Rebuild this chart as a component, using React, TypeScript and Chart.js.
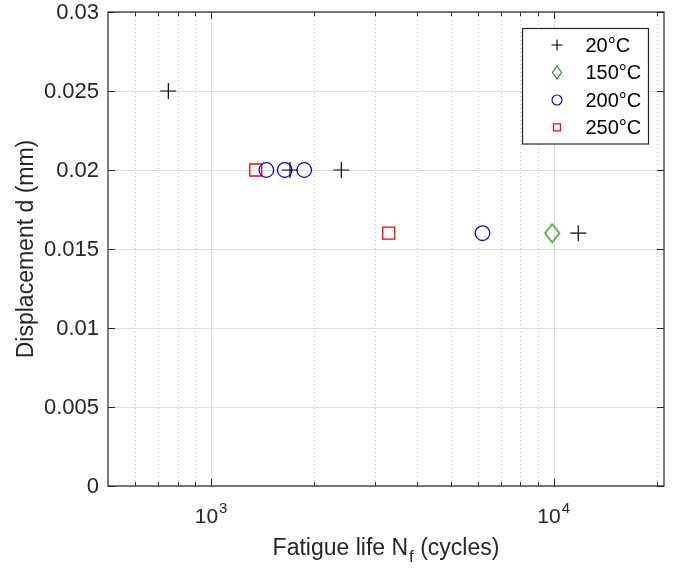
import React, { useEffect, useRef } from 'react';
import { Chart, registerables } from 'chart.js';

Chart.register(...registerables);

const seriesLabels = ['20°C', '150°C', '200°C', '250°C'];
const seriesColors = ['#000000', '#149414', '#0000ff', '#ff0000'];
const cycles20 = [750, 1700, 2400, 11800];
const disp20 = [0.025, 0.02, 0.02, 0.016];
const cycles150 = [9900];
const disp150 = [0.016];
const cycles200 = [1450, 1640, 1870, 6200];
const disp200 = [0.02, 0.02, 0.02, 0.016];
const cycles250 = [1350, 3300];
const disp250 = [0.02, 0.016];

const xTickValues = [500, 600, 700, 800, 900, 1000, 2000, 3000, 4000, 5000, 6000, 7000, 8000, 9000, 10000, 20000];
const xMajorValues = [1000, 10000];
const xLabelBases = ['10', '10'];
const xLabelExponents = ['3', '4'];
const yTickValues = [0, 0.005, 0.01, 0.015, 0.02, 0.025, 0.03];
const yTickLabels = ['0', '0.005', '0.01', '0.015', '0.02', '0.025', '0.03'];

const xTitleMain = 'Fatigue life N';
const xTitleSub = 'f';
const xTitleTail = ' (cycles)';
const yTitle = 'Displacement d (mm)';

const FONT = '"Liberation Sans", Arial, Helvetica, sans-serif';
const TEXT = '#262626';
const AXIS = '#262626';

function zip(xs: number[], ys: number[]) {
  return xs.map((x, i) => ({ x, y: ys[i] }));
}

function makeDiamond(w: number, h: number, color: string, lw: number) {
  const c = document.createElement('canvas');
  c.width = w;
  c.height = h;
  const g = c.getContext('2d')!;
  g.strokeStyle = color;
  g.lineWidth = lw;
  g.beginPath();
  g.moveTo(w / 2, lw);
  g.lineTo(w - lw, h / 2);
  g.lineTo(w / 2, h - lw);
  g.lineTo(lw, h / 2);
  g.closePath();
  g.stroke();
  return c;
}

const framePlugin = {
  id: 'matlabFrame',
  beforeDatasetsDraw(chart: any) {
    const { ctx, chartArea } = chart;
    const { left, right, top, bottom } = chartArea;
    const xs = chart.scales.x;
    const ys = chart.scales.y;
    ctx.save();
    ctx.lineWidth = 1;
    ctx.strokeStyle = '#dfdfdf';
    ctx.setLineDash([]);
    yTickValues.forEach((v) => {
      const py = Math.round(ys.getPixelForValue(v)) + 0.5;
      ctx.beginPath();
      ctx.moveTo(left, py);
      ctx.lineTo(right, py);
      ctx.stroke();
    });
    xTickValues.forEach((v) => {
      const px = Math.round(xs.getPixelForValue(v)) + 0.5;
      if (px <= left + 1 || px >= right - 1) return;
      const major = xMajorValues.includes(v);
      ctx.strokeStyle = major ? '#dfdfdf' : '#c4c4c4';
      ctx.setLineDash(major ? [] : [1, 3]);
      ctx.beginPath();
      ctx.moveTo(px, top);
      ctx.lineTo(px, bottom);
      ctx.stroke();
    });
    ctx.restore();
  },
  afterDatasetsDraw(chart: any) {
    const { ctx, chartArea } = chart;
    const { left, right, top, bottom } = chartArea;
    const xs = chart.scales.x;
    const ys = chart.scales.y;
    ctx.save();
    ctx.setLineDash([]);
    ctx.strokeStyle = AXIS;
    ctx.lineWidth = 1.2;
    ctx.strokeRect(left, top, right - left, bottom - top);
    ctx.lineWidth = 1;
    xTickValues.forEach((v) => {
      const px = Math.round(xs.getPixelForValue(v)) + 0.5;
      if (px <= left + 1) return;
      const len = xMajorValues.includes(v) ? 7 : 4;
      ctx.beginPath();
      ctx.moveTo(px, bottom);
      ctx.lineTo(px, bottom - len);
      ctx.moveTo(px, top);
      ctx.lineTo(px, top + len);
      ctx.stroke();
    });
    yTickValues.forEach((v) => {
      const py = Math.round(ys.getPixelForValue(v)) + 0.5;
      ctx.beginPath();
      ctx.moveTo(left, py);
      ctx.lineTo(left + 7, py);
      ctx.moveTo(right, py);
      ctx.lineTo(right - 7, py);
      ctx.stroke();
    });
    ctx.fillStyle = TEXT;
    ctx.font = `22px ${FONT}`;
    ctx.textAlign = 'right';
    ctx.textBaseline = 'middle';
    yTickValues.forEach((v, i) => {
      const py = ys.getPixelForValue(v);
      ctx.fillText(yTickLabels[i], left - 9, py + 1);
    });
    ctx.textAlign = 'left';
    ctx.textBaseline = 'alphabetic';
    xMajorValues.forEach((v, i) => {
      const px = xs.getPixelForValue(v);
      ctx.font = `21px ${FONT}`;
      const wb = ctx.measureText(xLabelBases[i]).width;
      ctx.font = `15px ${FONT}`;
      const we = ctx.measureText(xLabelExponents[i]).width;
      const x0 = px - (wb + we + 1) / 2;
      ctx.font = `21px ${FONT}`;
      ctx.fillText(xLabelBases[i], x0, bottom + 37);
      ctx.font = `15px ${FONT}`;
      ctx.fillText(xLabelExponents[i], x0 + wb + 1, bottom + 27);
    });
    ctx.font = `23px ${FONT}`;
    const w1 = ctx.measureText(xTitleMain).width;
    const w3 = ctx.measureText(xTitleTail).width;
    ctx.font = `17px ${FONT}`;
    const w2 = ctx.measureText(xTitleSub).width;
    const cx = (left + right) / 2;
    const tx = cx - (w1 + w2 + w3 + 1) / 2;
    const by = bottom + 69;
    ctx.font = `23px ${FONT}`;
    ctx.fillText(xTitleMain, tx, by);
    ctx.font = `17px ${FONT}`;
    ctx.fillText(xTitleSub, tx + w1 + 1, by + 7);
    ctx.font = `23px ${FONT}`;
    ctx.fillText(xTitleTail, tx + w1 + w2 + 1, by);
    ctx.save();
    ctx.translate(33, (top + bottom) / 2);
    ctx.rotate(-Math.PI / 2);
    ctx.textAlign = 'center';
    ctx.textBaseline = 'alphabetic';
    ctx.font = `23px ${FONT}`;
    ctx.fillText(yTitle, 0, 0);
    ctx.restore();
    ctx.restore();
  },
  afterDraw(chart: any) {
    const { ctx } = chart;
    const bx = 522.5, by = 28.5, bw = 126, bh = 115.5;
    ctx.save();
    ctx.fillStyle = '#ffffff';
    ctx.fillRect(bx, by, bw, bh);
    ctx.strokeStyle = AXIS;
    ctx.lineWidth = 1.2;
    ctx.strokeRect(bx, by, bw, bh);
    const rows = [45, 72.5, 100, 127.3];
    const mx = 557;
    rows.forEach((ry, i) => {
      const col = seriesColors[i];
      ctx.strokeStyle = col;
      ctx.lineWidth = 1.2;
      ctx.beginPath();
      if (i === 0) {
        ctx.lineWidth = 1.1;
        ctx.moveTo(mx - 5.5, ry);
        ctx.lineTo(mx + 5.5, ry);
        ctx.moveTo(mx, ry - 5.5);
        ctx.lineTo(mx, ry + 5.5);
      } else if (i === 1) {
        ctx.moveTo(mx, ry - 6.5);
        ctx.lineTo(mx + 4.5, ry);
        ctx.lineTo(mx, ry + 6.5);
        ctx.lineTo(mx - 4.5, ry);
        ctx.closePath();
      } else if (i === 2) {
        ctx.arc(mx, ry, 5, 0, Math.PI * 2);
      } else {
        ctx.rect(mx - 3.5, ry - 3.5, 7, 7);
      }
      ctx.stroke();
      ctx.fillStyle = '#000000';
      ctx.font = `20px ${FONT}`;
      ctx.textAlign = 'left';
      ctx.textBaseline = 'middle';
      ctx.fillText(seriesLabels[i], 585.5, ry + 1);
    });
    ctx.restore();
  },
};

export default function App() {
  const canvasRef = useRef<HTMLCanvasElement | null>(null);

  useEffect(() => {
    if (!canvasRef.current) return;
    const diamond = makeDiamond(17, 21, seriesColors[1], 1.3);
    const chart = new Chart(canvasRef.current, {
      type: 'scatter',
      data: {
        datasets: [
          {
            label: seriesLabels[0],
            data: zip(cycles20, disp20),
            pointStyle: 'cross',
            pointRadius: 8,
            borderColor: seriesColors[0],
            backgroundColor: 'transparent',
            borderWidth: 1.2,
          },
          {
            label: seriesLabels[1],
            data: zip(cycles150, disp150),
            pointStyle: diamond as any,
            pointRadius: 9,
            borderColor: seriesColors[1],
            backgroundColor: 'transparent',
          },
          {
            label: seriesLabels[2],
            data: zip(cycles200, disp200),
            pointStyle: 'circle',
            pointRadius: 7.3,
            borderColor: seriesColors[2],
            backgroundColor: 'transparent',
            borderWidth: 1.3,
          },
          {
            label: seriesLabels[3],
            data: zip(cycles250, disp250),
            pointStyle: 'rect',
            pointRadius: 8.5,
            borderColor: seriesColors[3],
            backgroundColor: 'transparent',
            borderWidth: 1.3,
          },
        ],
      },
      options: {
        responsive: false,
        animation: false,
        events: [],
        devicePixelRatio: 1,
        layout: { padding: { left: 108, top: 12, right: 11, bottom: 83 } },
        plugins: {
          legend: { display: false },
          tooltip: { enabled: false },
          title: { display: false },
        },
        scales: {
          x: {
            type: 'logarithmic',
            min: 500,
            max: 21000,
            grid: { display: false, drawTicks: false, tickLength: 0 },
            border: { display: false },
            ticks: { display: false, padding: 0 },
            afterBuildTicks: (scale: any) => {
              scale.ticks = xTickValues.map((v) => ({ value: v, major: xMajorValues.includes(v) }));
            },
          },
          y: {
            type: 'linear',
            min: 0,
            max: 0.03,
            grid: { display: false, drawTicks: false, tickLength: 0 },
            border: { display: false },
            ticks: { display: false, padding: 0 },
            afterBuildTicks: (scale: any) => {
              scale.ticks = yTickValues.map((v) => ({ value: v }));
            },
          },
        },
      },
      plugins: [framePlugin],
    });
    return () => chart.destroy();
  }, []);

  return (
    <div style={{ position: 'absolute', left: 0, top: 0, width: 675, height: 569, background: '#ffffff' }}>
      <canvas ref={canvasRef} width={675} height={569} style={{ display: 'block' }} />
    </div>
  );
}
